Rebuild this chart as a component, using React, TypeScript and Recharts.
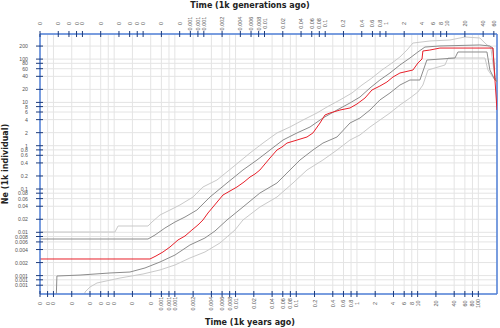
import React from 'react';
import { LineChart, Line, XAxis, YAxis, CartesianGrid, ReferenceLine } from 'recharts';

const GENERATION_YEARS = 3;
const X_DOMAIN: [number, number] = [0.000006, 203];
const TOP_DOMAIN: [number, number] = [X_DOMAIN[0] / GENERATION_YEARS, X_DOMAIN[1] / GENERATION_YEARS];
const Y_DOMAIN: [number, number] = [0.000376, 380];

const yearTicks = [0.000006, 0.000008, 0.00001, 0.00002, 0.00004, 0.00006, 0.00008, 0.0001, 0.0002, 0.0004, 0.0006, 0.0008, 0.001, 0.002, 0.004, 0.006, 0.008, 0.01, 0.02, 0.04, 0.06, 0.08, 0.1, 0.2, 0.4, 0.6, 0.8, 1, 2, 4, 6, 8, 10, 20, 40, 60, 80, 100];
const generationTicks = [0.000002, 0.000004, 0.000006, 0.000008, 0.00001, 0.00002, 0.00004, 0.00006, 0.00008, 0.0001, 0.0002, 0.0004, 0.0006, 0.0008, 0.001, 0.002, 0.004, 0.006, 0.008, 0.01, 0.02, 0.04, 0.06, 0.08, 0.1, 0.2, 0.4, 0.6, 0.8, 1, 2, 4, 6, 8, 10, 20, 40, 60];
const neTicks = [0.0006, 0.0008, 0.001, 0.002, 0.004, 0.006, 0.008, 0.01, 0.02, 0.04, 0.06, 0.08, 0.1, 0.2, 0.4, 0.6, 0.8, 1, 2, 4, 6, 8, 10, 20, 40, 60, 80, 100, 200];

// median
const medianT = [6e-6, 3.89e-4, 4.89e-4, 6.37e-4, 8.31e-4, 1.125e-3, 1.47e-3, 1.91e-3, 2.4e-3, 2.9e-3, 3.51e-3, 4.25e-3, 5.13e-3, 6.21e-3, 8.1e-3, 0.01055, 0.01377, 0.01729, 0.0209, 0.0252, 0.0305, 0.0369, 0.0481, 0.0582, 0.0703, 0.1028, 0.1503, 0.1884, 0.246, 0.2972, 0.359, 0.525, 0.767, 1.0, 1.355, 1.766, 2.39, 3.12, 3.92, 5.11, 8.37, 10.1, 11.8, 12.2, 15.9, 23.3, 174, 188, 203];
const medianNe = [0.00242, 0.00242, 0.00284, 0.00351, 0.00458, 0.00664, 0.00821, 0.0113, 0.01474, 0.01923, 0.0279, 0.0384, 0.0528, 0.0727, 0.0899, 0.1112, 0.145, 0.189, 0.222, 0.2746, 0.378, 0.52, 0.795, 0.933, 1.15, 1.35, 1.59, 1.97, 3.34, 5.12, 5.69, 6.67, 7.43, 9.18, 12.6, 19.3, 23.9, 29.6, 38.6, 47.8, 56.0, 81.2, 100.5, 154, 162, 180, 180, 32.9, 6.67];

// inner band upper
const innerUpperT = [6e-6, 3.61e-4, 4.71e-4, 6.87e-4, 1.005e-3, 1.47e-3, 2.31e-3, 3.79e-3, 7.22e-3, 0.01324, 0.02254, 0.0369, 0.0604, 0.1028, 0.1683, 0.2754, 0.469, 0.767, 1.122, 1.638, 2.39, 3.5, 5.11, 7.47, 10.1, 13.2, 23.3, 106, 155, 174, 188, 203];
const innerUpperNe = [0.007, 0.007, 0.00866, 0.01257, 0.01729, 0.02256, 0.0327, 0.0653, 0.1376, 0.2746, 0.467, 0.795, 1.35, 1.97, 2.7, 4.36, 6.67, 9.69, 13.3, 21.5, 32.9, 47.8, 73.1, 106, 146, 190, 201, 212, 201, 180, 36.6, 30];

// outer band upper
const outerUpperT = [6e-6, 1.03e-4, 1.16e-4, 3.61e-4, 4.2e-4, 5.69e-4, 8.31e-4, 1.21e-3, 1.99e-3, 2.9e-3, 4.94e-3, 9.07e-3, 0.01729, 0.0283, 0.0481, 0.0787, 0.1291, 0.2193, 0.3206, 0.525, 0.828, 1.21, 1.766, 2.58, 3.77, 5.11, 6.67, 8.37, 15.9, 34.0, 60.2, 106, 133.6, 161, 188, 203];
const outerUpperNe = [0.01016, 0.01016, 0.01398, 0.01398, 0.01729, 0.0251, 0.0327, 0.0427, 0.0653, 0.1112, 0.1613, 0.322, 0.678, 1.15, 1.97, 2.7, 3.92, 5.69, 7.83, 11.4, 16.5, 25.2, 36.6, 56.0, 81.2, 112, 162, 235, 262, 276, 324, 307, 223, 180, 36.6, 30];

// inner band lower
const innerLowerT = [6e-6, 1.1e-5, 1.14e-5, 2.74e-5, 8.54e-5, 1.82e-4, 3.22e-4, 5.69e-4, 1.005e-3, 1.77e-3, 3.13e-3, 4.58e-3, 7.22e-3, 0.01324, 0.0252, 0.0481, 0.0703, 0.1151, 0.1884, 0.2754, 0.469, 0.767, 1.122, 1.638, 2.39, 3.5, 5.11, 7.47, 10.9, 14.2, 41.2, 46.1, 138.7, 155, 188, 203];
const innerLowerNe = [0.0002, 0.0002, 0.000979, 0.00103, 0.00115, 0.00121, 0.0015, 0.00206, 0.00299, 0.00509, 0.00738, 0.01072, 0.01923, 0.0384, 0.0808, 0.1376, 0.234, 0.467, 0.795, 1.15, 1.59, 3.34, 4.36, 6.67, 11.4, 16.5, 25.2, 32.9, 32.9, 95.3, 106, 146, 146, 56.0, 32.9, 30];

// outer band lower
const outerLowerT = [6e-6, 3.18e-5, 3.31e-5, 4.0e-5, 5.21e-5, 1.25e-4, 2.99e-4, 5.69e-4, 1.005e-3, 1.77e-3, 3.13e-3, 5.53e-3, 9.78e-3, 0.01324, 0.0252, 0.0481, 0.0883, 0.1503, 0.2754, 0.469, 0.767, 1.122, 1.638, 2.39, 3.5, 5.11, 7.47, 10.1, 12.2, 14.8, 28.2, 31.6, 128.6, 144, 188, 203];
const outerLowerNe = [0.0002, 0.0002, 0.000418, 0.000545, 0.000675, 0.00088, 0.00109, 0.00135, 0.00176, 0.00255, 0.00351, 0.00566, 0.0113, 0.01923, 0.0384, 0.0653, 0.1376, 0.2746, 0.467, 0.795, 1.35, 1.77, 2.7, 3.92, 5.69, 8.71, 12.6, 17.4, 25.2, 56.0, 73.1, 106, 106, 56.0, 32.9, 30];

const toRows = (t: number[], ne: number[], scale = 1) => t.map((x, i) => ({ t: x / scale, ne: ne[i] }));

const fmt = (v: number) => String(Number(Number(v).toFixed(3)));

const AXIS_BLUE = '#5080d8';
const TICK_NAVY = '#1d3b7a';
const LABEL = '#555555';
const FONT = '"Liberation Sans", Arial, sans-serif';
const TITLE_FONT = '"DejaVu Sans", Verdana, sans-serif';

function BottomTick(props: any) {
  const { x, y, payload } = props;
  const tx = x + 2;
  const ty = y + 9.5;
  return (
    <g>
      <line x1={x} x2={x} y1={y - 3} y2={y + 3} stroke={TICK_NAVY} strokeWidth={1} />
      <text x={tx} y={ty} transform={`rotate(-90 ${tx} ${ty})`} textAnchor="middle" fontSize={5.5} fill={LABEL} fontFamily={FONT}>
        {fmt(payload.value)}
      </text>
    </g>
  );
}

function TopTick(props: any) {
  const { x, y, payload } = props;
  const tx = x + 2;
  const ty = y - 10.5;
  return (
    <g>
      <line x1={x} x2={x} y1={y - 3} y2={y + 3} stroke={TICK_NAVY} strokeWidth={1} />
      <text x={tx} y={ty} transform={`rotate(-90 ${tx} ${ty})`} textAnchor="middle" fontSize={5.5} fill={LABEL} fontFamily={FONT}>
        {fmt(payload.value)}
      </text>
    </g>
  );
}

function LeftTick(props: any) {
  const { x, y, payload } = props;
  return (
    <g>
      <line x1={x - 4} x2={x + 3} y1={y} y2={y} stroke={TICK_NAVY} strokeWidth={1} />
      <text x={x - 12} y={y + 2} textAnchor="end" fontSize={5.2} fill={LABEL} fontFamily={FONT}>
        {fmt(payload.value)}
      </text>
    </g>
  );
}

export default function App() {
  return (
    <div style={{ position: 'absolute', left: 0, top: 0, width: 500, height: 328, background: '#fff' }}>
      <LineChart width={500} height={328} margin={{ top: 0, right: 3, bottom: 0, left: 0 }}>
        <CartesianGrid xAxisId="bottom" yAxisId="left" stroke="#e4e4e4" strokeWidth={1} />
        <XAxis
          xAxisId="bottom"
          dataKey="t"
          type="number"
          scale="log"
          domain={X_DOMAIN}
          allowDataOverflow
          ticks={yearTicks}
          interval={0}
          orientation="bottom"
          height={34}
          tickSize={0}
          tickMargin={0}
          tickLine={false}
          axisLine={{ stroke: AXIS_BLUE, strokeWidth: 1.5 }}
          tick={<BottomTick />}
        />
        <XAxis
          xAxisId="top"
          dataKey="t"
          type="number"
          scale="log"
          domain={TOP_DOMAIN}
          allowDataOverflow
          ticks={generationTicks}
          interval={0}
          orientation="top"
          height={34}
          tickSize={0}
          tickMargin={0}
          tickLine={false}
          axisLine={{ stroke: AXIS_BLUE, strokeWidth: 1.5 }}
          tick={<TopTick />}
        />
        <YAxis
          yAxisId="left"
          type="number"
          scale="log"
          domain={Y_DOMAIN}
          allowDataOverflow
          ticks={neTicks}
          interval={0}
          width={40}
          tickSize={0}
          tickMargin={0}
          tickLine={false}
          axisLine={{ stroke: AXIS_BLUE, strokeWidth: 1.5 }}
          tick={<LeftTick />}
        />
        <ReferenceLine xAxisId="bottom" yAxisId="left" x={X_DOMAIN[1]} stroke={AXIS_BLUE} strokeWidth={1.5} ifOverflow="visible" />
        <Line xAxisId="top" yAxisId="left" data={toRows(medianT, medianNe, GENERATION_YEARS)} dataKey="ne" stroke="none" strokeWidth={0} dot={false} activeDot={false} isAnimationActive={false} />
        <Line xAxisId="bottom" yAxisId="left" data={toRows(outerUpperT, outerUpperNe)} dataKey="ne" stroke="#c9c9c9" strokeWidth={1} dot={false} isAnimationActive={false} />
        <Line xAxisId="bottom" yAxisId="left" data={toRows(outerLowerT, outerLowerNe)} dataKey="ne" stroke="#c9c9c9" strokeWidth={1} dot={false} isAnimationActive={false} />
        <Line xAxisId="bottom" yAxisId="left" data={toRows(innerUpperT, innerUpperNe)} dataKey="ne" stroke="#8c8c8c" strokeWidth={1} dot={false} isAnimationActive={false} />
        <Line xAxisId="bottom" yAxisId="left" data={toRows(innerLowerT, innerLowerNe)} dataKey="ne" stroke="#8c8c8c" strokeWidth={1} dot={false} isAnimationActive={false} />
        <Line xAxisId="bottom" yAxisId="left" data={toRows(medianT, medianNe)} dataKey="ne" stroke="#e8202a" strokeWidth={1} dot={false} isAnimationActive={false} />
      </LineChart>
      <svg width={500} height={328} style={{ position: 'absolute', left: 0, top: 0, pointerEvents: 'none' }}>
        <text x={250} y={8} textAnchor="middle" fontSize={8} fontWeight="bold" fontFamily={TITLE_FONT} fill="#222">
          Time (1k generations ago)
        </text>
        <text x={250} y={325} textAnchor="middle" fontSize={8} fontWeight="bold" fontFamily={TITLE_FONT} fill="#222">
          Time (1k years ago)
        </text>
        <text x={8} y={164} transform="rotate(-90 8 164)" textAnchor="middle" fontSize={8} fontWeight="bold" fontFamily={TITLE_FONT} fill="#222">
          Ne (1k individual)
        </text>
      </svg>
    </div>
  );
}
